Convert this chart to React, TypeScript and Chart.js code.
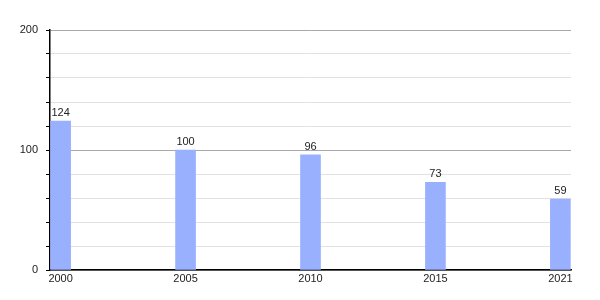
import React, { useEffect, useRef } from "react";
import { Chart, registerables } from "chart.js";

Chart.register(...registerables);

const years = ["2000", "2005", "2010", "2015", "2021"];
const values = [124, 100, 96, 73, 59];
const yTickLabels = ["0", "100", "200"];

const FONT = "'Liberation Sans', Arial, sans-serif";

const valueLabels = {
  id: "valueLabels",
  afterDatasetsDraw(chart: any) {
    const ctx = chart.ctx;
    const meta = chart.getDatasetMeta(0);
    ctx.save();
    ctx.font = `11px ${FONT}`;
    ctx.fillStyle = "#222";
    ctx.textAlign = "center";
    ctx.textBaseline = "alphabetic";
    meta.data.forEach((bar: any, i: number) => {
      ctx.fillText(String(values[i]), bar.x, bar.y - 5);
    });
    ctx.restore();
  },
};

export default function App() {
  const ref = useRef<HTMLCanvasElement>(null);
  useEffect(() => {
    if (!ref.current) return;
    const chart = new Chart(ref.current, {
      type: "bar",
      data: {
        datasets: [
          {
            data: values.map((v, i) => ({ x: i, y: v })),
            backgroundColor: "#99b0ff",
            borderWidth: 0,
            barThickness: 20,
          },
        ],
      },
      options: {
        animation: false,
        responsive: false,
        maintainAspectRatio: false,
        layout: { padding: { top: 30, right: 29, left: 0, bottom: 0 } },
        plugins: { legend: { display: false }, tooltip: { enabled: false } },
        scales: {
          x: {
            type: "linear",
            offset: false,
            min: -0.085,
            max: 4.085,
            afterBuildTicks: (scale: any) => {
              scale.ticks = years.map((_, i) => ({ value: i }));
            },
            afterFit: (scale: any) => {
              scale.height = 30;
            },
            ticks: {
              callback: (v: any) => years[v] ?? "",
              font: { family: FONT, size: 11 },
              color: "#222",
              padding: 2,
              maxRotation: 0,
              autoSkip: false,
            },
            grid: { display: false, drawTicks: false, offset: false },
            border: { display: true, color: "#000", width: 1.5 },
          },
          y: {
            min: 0,
            max: 200,
            afterBuildTicks: (scale: any) => {
              const t = [];
              for (let v = 0; v <= 200; v += 20) t.push({ value: v });
              scale.ticks = t;
            },
            afterFit: (scale: any) => {
              scale.width = 50;
            },
            ticks: {
              callback: (v: any) => (yTickLabels.includes(String(v)) ? String(v) : ""),
              font: { family: FONT, size: 11 },
              color: "#222",
              padding: 8,
              autoSkip: false,
            },
            grid: {
              color: (c: any) =>
                c.tick && c.tick.value % 100 === 0 ? "#a8a8a8" : "#e2e2e2",
              tickColor: "#000",
              tickLength: 4,
              lineWidth: 1,
            },
            border: { display: true, color: "#000", width: 1.5 },
          },
        },
      },
      plugins: [valueLabels],
    } as any);
    return () => chart.destroy();
  }, []);
  return (
    <div style={{ position: "absolute", left: 0, top: 0, width: 600, height: 300, background: "#fff" }}>
      <canvas ref={ref} width={600} height={300} />
    </div>
  );
}
